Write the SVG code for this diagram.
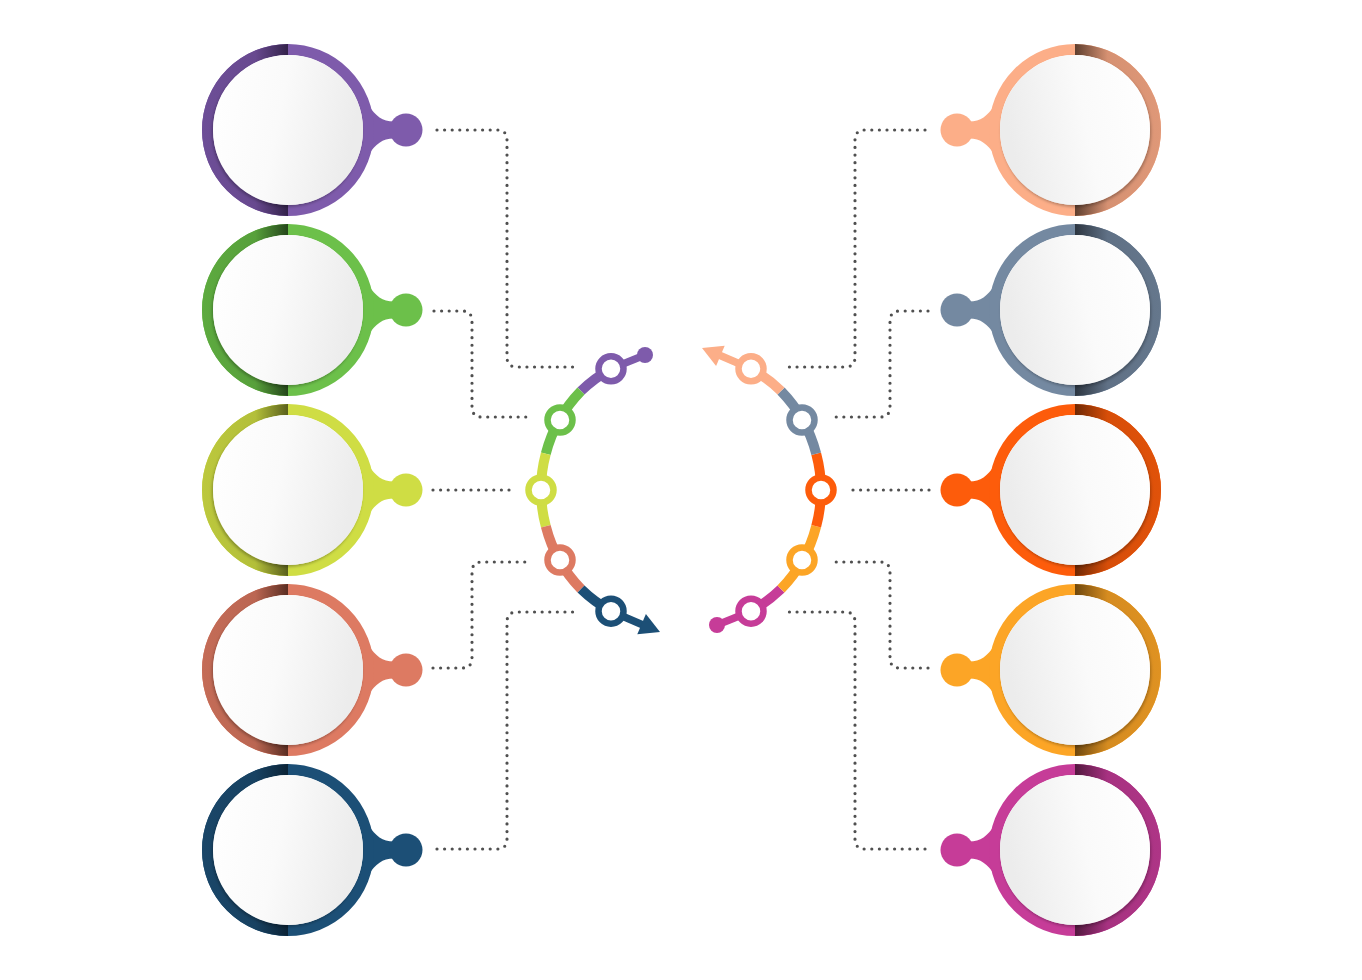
<svg xmlns="http://www.w3.org/2000/svg" width="1362" height="980" viewBox="0 0 1362 980">
<defs>
<style>
.ring{fill:none;stroke-width:11}
.dots{fill:none;stroke:#505050;stroke-width:3.2;stroke-linecap:round;stroke-dasharray:0 7.6}
.seg{fill:none;stroke-width:10}
.stub{stroke-width:7.5}
.mk{fill:#fff;stroke-width:6.5}
</style>
<linearGradient id="wh" x1="0" y1="0" x2="1" y2="0.2">
<stop offset="0" stop-color="#ffffff"/><stop offset="0.5" stop-color="#fafafa"/><stop offset="1" stop-color="#ececec"/>
</linearGradient>
<filter id="sh" x="-20%" y="-20%" width="140%" height="140%">
<feDropShadow dx="-1" dy="2" stdDeviation="1.6" flood-color="#000" flood-opacity="0.28"/>
</filter>
<linearGradient id="d1" x1="0" y1="0" x2="1" y2="0"><stop offset="0" stop-color="#6d4e97"/><stop offset="0.62" stop-color="#68498f"/><stop offset="1" stop-color="#33224a"/></linearGradient>
<linearGradient id="d2" x1="0" y1="0" x2="1" y2="0"><stop offset="0" stop-color="#5daa3f"/><stop offset="0.62" stop-color="#57a03b"/><stop offset="1" stop-color="#24461a"/></linearGradient>
<linearGradient id="d3" x1="0" y1="0" x2="1" y2="0"><stop offset="0" stop-color="#bcc83d"/><stop offset="0.62" stop-color="#b3bf3a"/><stop offset="1" stop-color="#5a601c"/></linearGradient>
<linearGradient id="d4" x1="0" y1="0" x2="1" y2="0"><stop offset="0" stop-color="#c46c57"/><stop offset="0.62" stop-color="#bb6652"/><stop offset="1" stop-color="#5a2d22"/></linearGradient>
<linearGradient id="d5" x1="0" y1="0" x2="1" y2="0"><stop offset="0" stop-color="#1a4668"/><stop offset="0.62" stop-color="#184262"/><stop offset="1" stop-color="#0b2336"/></linearGradient>
<linearGradient id="d6" x1="0" y1="0" x2="1" y2="0"><stop offset="0" stop-color="#df9878"/><stop offset="0.62" stop-color="#d69172"/><stop offset="1" stop-color="#5e3e2e"/></linearGradient>
<linearGradient id="d7" x1="0" y1="0" x2="1" y2="0"><stop offset="0" stop-color="#65778c"/><stop offset="0.62" stop-color="#607186"/><stop offset="1" stop-color="#2c3540"/></linearGradient>
<linearGradient id="d8" x1="0" y1="0" x2="1" y2="0"><stop offset="0" stop-color="#e0520a"/><stop offset="0.62" stop-color="#d74e09"/><stop offset="1" stop-color="#6e2804"/></linearGradient>
<linearGradient id="d9" x1="0" y1="0" x2="1" y2="0"><stop offset="0" stop-color="#df9222"/><stop offset="0.62" stop-color="#d68c20"/><stop offset="1" stop-color="#6e470e"/></linearGradient>
<linearGradient id="d10" x1="0" y1="0" x2="1" y2="0"><stop offset="0" stop-color="#ae3586"/><stop offset="0.62" stop-color="#a73281"/><stop offset="1" stop-color="#52183e"/></linearGradient>
<path id="half" d="M0,-86 A86,86 0 0 0 0,86 L0,75 A75,75 0 0 1 0,-75 Z"/>
<path id="neck" d="M80,-25 C88,-14 94,-8.5 106,-8.5 L106,8.5 C94,8.5 88,14 80,25 Z"/>
</defs>
<rect width="1362" height="980" fill="#ffffff"/>

<g id="connectors">
<path class="dots" d="M437,130 H497 Q507,130 507,140 V357 Q507,367 517,367 H578"/>
<path class="dots" d="M434,311 H462 Q472,311 472,321 V407 Q472,417 482,417 H532"/>
<path class="dots" d="M433,490 H515"/>
<path class="dots" d="M433,668 H462 Q472,668 472,658 V572 Q472,562 482,562 H532"/>
<path class="dots" d="M437,849 H497 Q507,849 507,839 V622 Q507,612 517,612 H578"/>
<path class="dots" d="M925,130 H865 Q855,130 855,140 V357 Q855,367 845,367 H784"/>
<path class="dots" d="M928,311 H900 Q890,311 890,321 V407 Q890,417 880,417 H830"/>
<path class="dots" d="M929,490 H847"/>
<path class="dots" d="M928,668 H900 Q890,668 890,658 V572 Q890,562 880,562 H830"/>
<path class="dots" d="M925,849 H865 Q855,849 855,839 V622 Q855,612 845,612 H784"/>
</g>

<g id="center-wheel">
<g id="arc-left">
<path class="seg" stroke="#7e5bab" d="M581,391 A140,140 0 0 1 611,368.8"/>
<path class="seg" stroke="#6cc04a" d="M545.8,453.8 A140,140 0 0 1 581,391"/>
<path class="seg" stroke="#cfdd44" d="M545.8,526.2 A140,140 0 0 1 545.8,453.8"/>
<path class="seg" stroke="#dd7a62" d="M581,589 A140,140 0 0 1 545.8,526.2"/>
<path class="seg" stroke="#1c4f76" d="M611,611.2 A140,140 0 0 1 581,589"/>
<line class="stub" stroke="#7e5bab" x1="611" y1="368.8" x2="645" y2="355"/>
<circle cx="645" cy="355" r="8" fill="#7e5bab"/>
<line class="stub" stroke="#1c4f76" x1="611" y1="611.2" x2="643" y2="625"/>
<polygon fill="#1c4f76" points="660,632 645.9,614.1 637.3,634.3"/>
<circle class="mk" stroke="#7e5bab" cx="611" cy="368.8" r="12.5"/>
<circle class="mk" stroke="#6cc04a" cx="560" cy="420" r="12.5"/>
<circle class="mk" stroke="#cfdd44" cx="541" cy="490" r="12.5"/>
<circle class="mk" stroke="#dd7a62" cx="560" cy="560" r="12.5"/>
<circle class="mk" stroke="#1c4f76" cx="611" cy="611.2" r="12.5"/>
</g>
<g id="arc-right" transform="rotate(180 681 490)">
<path class="seg" stroke="#c63c98" d="M581,391 A140,140 0 0 1 611,368.8"/>
<path class="seg" stroke="#fca526" d="M545.8,453.8 A140,140 0 0 1 581,391"/>
<path class="seg" stroke="#fd5c0b" d="M545.8,526.2 A140,140 0 0 1 545.8,453.8"/>
<path class="seg" stroke="#7489a1" d="M581,589 A140,140 0 0 1 545.8,526.2"/>
<path class="seg" stroke="#fcae88" d="M611,611.2 A140,140 0 0 1 581,589"/>
<line class="stub" stroke="#c63c98" x1="611" y1="368.8" x2="645" y2="355"/>
<circle cx="645" cy="355" r="8" fill="#c63c98"/>
<line class="stub" stroke="#fcae88" x1="611" y1="611.2" x2="643" y2="625"/>
<polygon fill="#fcae88" points="660,632 645.9,614.1 637.3,634.3"/>
<circle class="mk" stroke="#c63c98" cx="611" cy="368.8" r="12.5"/>
<circle class="mk" stroke="#fca526" cx="560" cy="420" r="12.5"/>
<circle class="mk" stroke="#fd5c0b" cx="541" cy="490" r="12.5"/>
<circle class="mk" stroke="#7489a1" cx="560" cy="560" r="12.5"/>
<circle class="mk" stroke="#fcae88" cx="611" cy="611.2" r="12.5"/>
</g>
</g>

<g id="node-l1" transform="translate(288,130)">
<use href="#neck" fill="#7e5bab"/><circle cx="118" r="16.5" fill="#7e5bab"/>
<circle class="ring" r="80.5" stroke="#7e5bab"/><use href="#half" fill="url(#d1)"/>
<circle r="75" fill="url(#wh)" filter="url(#sh)"/>
</g>
<g id="node-l2" transform="translate(288,310)">
<use href="#neck" fill="#6cc04a"/><circle cx="118" r="16.5" fill="#6cc04a"/>
<circle class="ring" r="80.5" stroke="#6cc04a"/><use href="#half" fill="url(#d2)"/>
<circle r="75" fill="url(#wh)" filter="url(#sh)"/>
</g>
<g id="node-l3" transform="translate(288,490)">
<use href="#neck" fill="#cfdd44"/><circle cx="118" r="16.5" fill="#cfdd44"/>
<circle class="ring" r="80.5" stroke="#cfdd44"/><use href="#half" fill="url(#d3)"/>
<circle r="75" fill="url(#wh)" filter="url(#sh)"/>
</g>
<g id="node-l4" transform="translate(288,670)">
<use href="#neck" fill="#dd7a62"/><circle cx="118" r="16.5" fill="#dd7a62"/>
<circle class="ring" r="80.5" stroke="#dd7a62"/><use href="#half" fill="url(#d4)"/>
<circle r="75" fill="url(#wh)" filter="url(#sh)"/>
</g>
<g id="node-l5" transform="translate(288,850)">
<use href="#neck" fill="#1c4f76"/><circle cx="118" r="16.5" fill="#1c4f76"/>
<circle class="ring" r="80.5" stroke="#1c4f76"/><use href="#half" fill="url(#d5)"/>
<circle r="75" fill="url(#wh)" filter="url(#sh)"/>
</g>

<g id="node-r1" transform="translate(1075,130) scale(-1,1)">
<use href="#neck" fill="#fcae88"/><circle cx="118" r="16.5" fill="#fcae88"/>
<circle class="ring" r="80.5" stroke="#fcae88"/><use href="#half" fill="url(#d6)"/>
<circle r="75" fill="url(#wh)" filter="url(#sh)"/>
</g>
<g id="node-r2" transform="translate(1075,310) scale(-1,1)">
<use href="#neck" fill="#7489a1"/><circle cx="118" r="16.5" fill="#7489a1"/>
<circle class="ring" r="80.5" stroke="#7489a1"/><use href="#half" fill="url(#d7)"/>
<circle r="75" fill="url(#wh)" filter="url(#sh)"/>
</g>
<g id="node-r3" transform="translate(1075,490) scale(-1,1)">
<use href="#neck" fill="#fd5c0b"/><circle cx="118" r="16.5" fill="#fd5c0b"/>
<circle class="ring" r="80.5" stroke="#fd5c0b"/><use href="#half" fill="url(#d8)"/>
<circle r="75" fill="url(#wh)" filter="url(#sh)"/>
</g>
<g id="node-r4" transform="translate(1075,670) scale(-1,1)">
<use href="#neck" fill="#fca526"/><circle cx="118" r="16.5" fill="#fca526"/>
<circle class="ring" r="80.5" stroke="#fca526"/><use href="#half" fill="url(#d9)"/>
<circle r="75" fill="url(#wh)" filter="url(#sh)"/>
</g>
<g id="node-r5" transform="translate(1075,850) scale(-1,1)">
<use href="#neck" fill="#c63c98"/><circle cx="118" r="16.5" fill="#c63c98"/>
<circle class="ring" r="80.5" stroke="#c63c98"/><use href="#half" fill="url(#d10)"/>
<circle r="75" fill="url(#wh)" filter="url(#sh)"/>
</g>
</svg>
